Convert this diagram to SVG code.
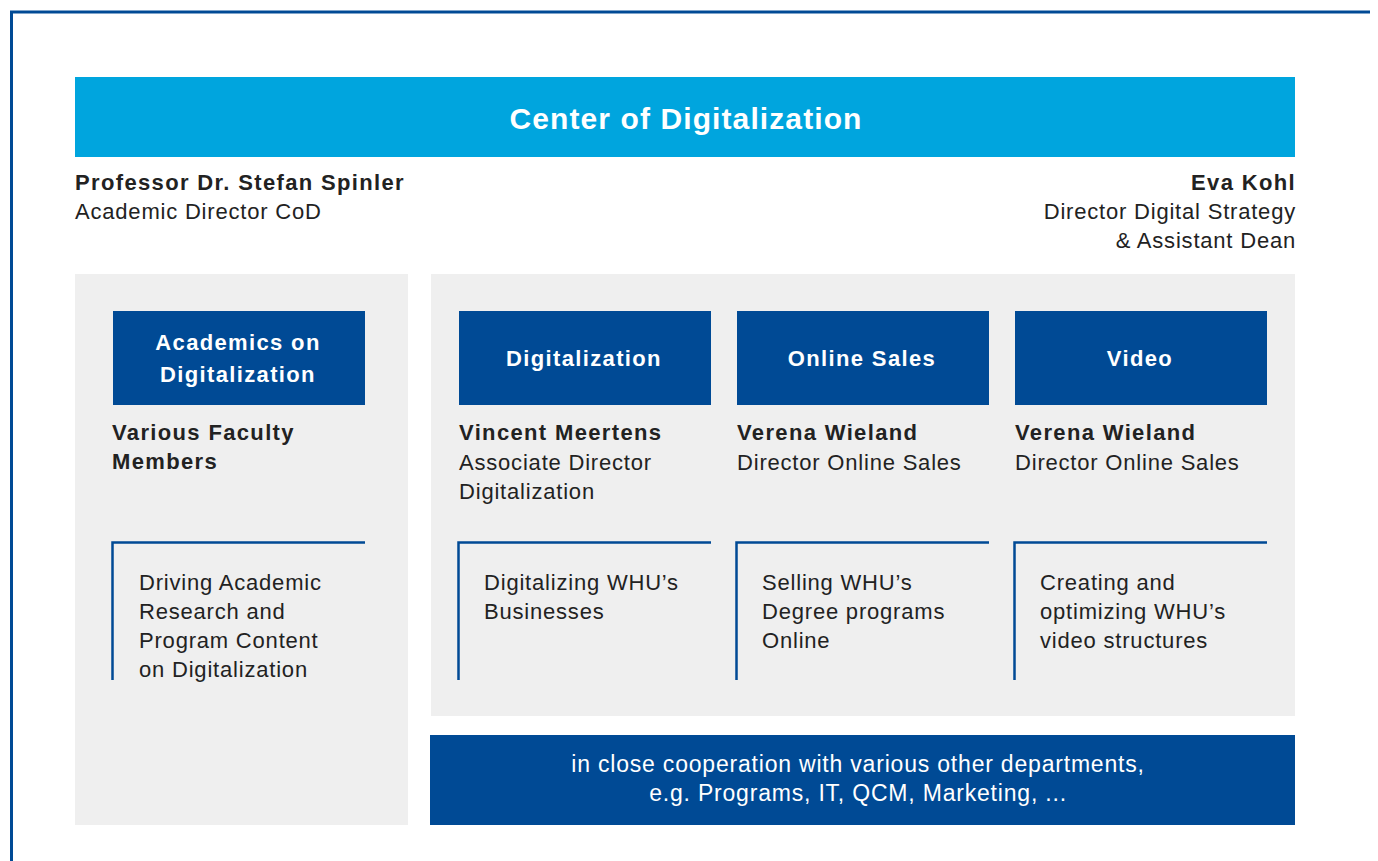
<svg xmlns="http://www.w3.org/2000/svg" width="1378" height="861" viewBox="0 0 1378 861">
<style>
.t{font-family:"Liberation Sans",Arial,sans-serif;font-size:22px;letter-spacing:0.8px;fill:#222}
.b{font-weight:bold;letter-spacing:1.35px}
.w{fill:#fff}
.gray{fill:#efefef}
.blue{fill:#004a95}
.br{fill:none;stroke:#004a95;stroke-width:2.5}
</style>
<rect width="1378" height="861" fill="#fff"/>
<path d="M11.5 861 V12 H1370" fill="none" stroke="#004a95" stroke-width="3"/>
<g id="header">
<rect x="75" y="77" width="1220" height="80" fill="#00a5de"/>
<text x="686" y="129" text-anchor="middle" class="t b w" style="font-size:30px;letter-spacing:1.1px">Center of Digitalization</text>
</g>
<g id="spinler">
<text x="75" y="190" class="t b">Professor Dr. Stefan Spinler</text>
<text x="75" y="219" class="t">Academic Director CoD</text>
</g>
<g id="kohl">
<text x="1296" y="190" text-anchor="end" class="t b">Eva Kohl</text>
<text x="1296" y="219" text-anchor="end" class="t">Director Digital Strategy</text>
<text x="1296" y="248" text-anchor="end" class="t">&amp; Assistant Dean</text>
</g>
<rect x="75" y="274" width="333" height="551" class="gray"/>
<rect x="431" y="274" width="864" height="442" class="gray"/>
<g id="academics">
<rect x="113" y="311" width="252" height="94" class="blue"/>
<text x="238" y="350" text-anchor="middle" class="t b w">Academics on</text>
<text x="238" y="382" text-anchor="middle" class="t b w">Digitalization</text>
<text x="112" y="440" class="t b">Various Faculty</text>
<text x="112" y="469" class="t b">Members</text>
<path d="M112.5 680 V542.5 H365" class="br"/>
<text x="139" y="590" class="t">Driving Academic</text>
<text x="139" y="619" class="t">Research and</text>
<text x="139" y="648" class="t">Program Content</text>
<text x="139" y="677" class="t">on Digitalization</text>
</g>
<g id="digitalization">
<rect x="459" y="311" width="252" height="94" class="blue"/>
<text x="584" y="366" text-anchor="middle" class="t b w">Digitalization</text>
<text x="459" y="440" class="t b">Vincent Meertens</text>
<text x="459" y="470" class="t">Associate Director</text>
<text x="459" y="499" class="t">Digitalization</text>
<path d="M458.5 680 V542.5 H711" class="br"/>
<text x="484" y="590" class="t">Digitalizing WHU’s</text>
<text x="484" y="619" class="t">Businesses</text>
</g>
<g id="onlinesales">
<rect x="737" y="311" width="252" height="94" class="blue"/>
<text x="862" y="366" text-anchor="middle" class="t b w">Online Sales</text>
<text x="737" y="440" class="t b">Verena Wieland</text>
<text x="737" y="470" class="t">Director Online Sales</text>
<path d="M736.5 680 V542.5 H989" class="br"/>
<text x="762" y="590" class="t">Selling WHU’s</text>
<text x="762" y="619" class="t">Degree programs</text>
<text x="762" y="648" class="t">Online</text>
</g>
<g id="video">
<rect x="1015" y="311" width="252" height="94" class="blue"/>
<text x="1140" y="366" text-anchor="middle" class="t b w">Video</text>
<text x="1015" y="440" class="t b">Verena Wieland</text>
<text x="1015" y="470" class="t">Director Online Sales</text>
<path d="M1014.5 680 V542.5 H1267" class="br"/>
<text x="1040" y="590" class="t">Creating and</text>
<text x="1040" y="619" class="t">optimizing WHU’s</text>
<text x="1040" y="648" class="t">video structures</text>
</g>
<g id="cooperation">
<rect x="430" y="735" width="865" height="90" class="blue"/>
<text x="858" y="772" text-anchor="middle" class="t w" style="font-size:23px">in close cooperation with various other departments,</text>
<text x="858" y="801" text-anchor="middle" class="t w" style="font-size:23px">e.g. Programs, IT, QCM, Marketing, ...</text>
</g>
<g id="connectors"></g>
</svg>
